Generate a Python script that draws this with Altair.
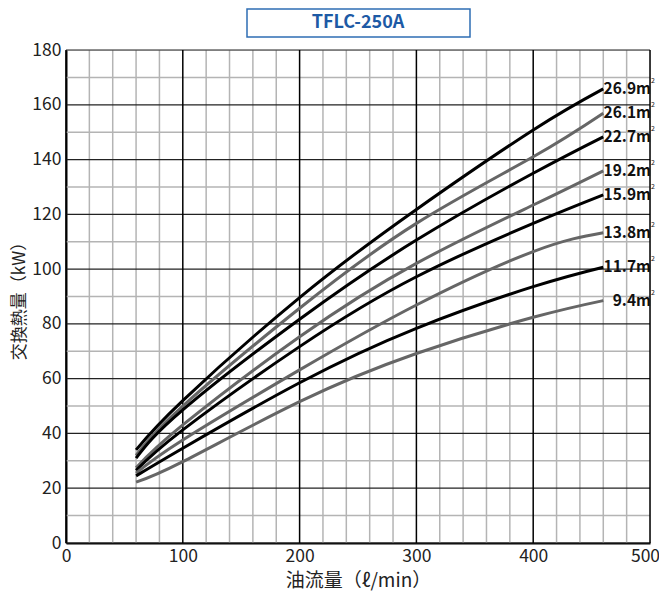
import altair as alt
import pandas as pd

# Oil flow rate (l/min) at which curves were read
flow = [60, 100, 200, 300, 400, 460]

# Heat exchange (kW) per heat-transfer area
areas = ["26.9", "26.1", "22.7", "19.2", "15.9", "13.8", "11.7", "9.4"]
q_269 = [34.0, 52.0, 89.6, 121.8, 150.8, 165.8]
q_261 = [32.0, 50.0, 85.7, 116.7, 141.0, 156.9]
q_227 = [31.0, 48.6, 81.7, 110.6, 135.0, 148.3]
q_192 = [27.5, 43.1, 75.3, 102.1, 123.4, 135.9]
q_159 = [26.5, 41.3, 71.7, 97.2, 116.7, 127.1]
q_138 = [25.5, 37.6, 63.2, 86.9, 106.4, 113.3]
q_117 = [24.5, 34.6, 58.5, 78.4, 93.6, 100.7]
q_94 = [22.2, 29.7, 51.6, 69.2, 82.4, 88.5]
series = [q_269, q_261, q_227, q_192, q_159, q_138, q_117, q_94]
line_colors = ["#000000", "#666666", "#000000", "#666666", "#000000", "#666666", "#000000", "#666666"]

x_major = [0, 100, 200, 300, 400, 500]
x_minor = [20, 40, 60, 80, 120, 140, 160, 180, 220, 240, 260, 280, 320, 340, 360, 380, 420, 440, 460, 480]
y_major = [0, 20, 40, 60, 80, 100, 120, 140, 160, 180]
y_minor = [10, 30, 50, 70, 90, 110, 130, 150, 170]

title_text = "TFLC-250A"
x_title = "油流量（ℓ/min）"
y_title = "交換熱量（kW）"
FONT = "Noto Sans CJK JP"

rows = []
for a, vals in zip(areas, series):
    for f, v in zip(flow, vals):
        rows.append({"area": a, "flow": f, "q": v})
df = pd.DataFrame(rows)
lab = pd.DataFrame({"area": areas, "q": [s[-1] for s in series], "label": [a + "m" for a in areas]})

xs = alt.Scale(domain=[0, 500], nice=False)
ys = alt.Scale(domain=[0, 180], nice=False)
xax = alt.Axis(values=x_major, grid=False, ticks=False, labelFontSize=17.5, labelColor="#222",
               labelFont=FONT, titleFont=FONT, titleFontSize=19, titleFontWeight="normal",
               titleColor="#222", labelPadding=4, titlePadding=7, domainColor="#000",
               domainWidth=2, labelFlush=False,
               labelOffset={"expr": "datum.value == 500 ? -5 : 0"})
yax = alt.Axis(values=y_major, grid=False, ticks=False, labelFontSize=17.5, labelColor="#222",
               labelFont=FONT, titleFont=FONT, titleFontSize=17, titleFontWeight="normal",
               titleColor="#222", labelPadding=5, titlePadding=3, domainColor="#000",
               domainWidth=2)

xmin = alt.Chart(pd.DataFrame({"v": x_minor})).mark_rule(color="#b4b4b4", strokeWidth=1.5).encode(
    x=alt.X("v:Q", scale=xs, axis=xax, title=x_title))
ymin = alt.Chart(pd.DataFrame({"v": y_minor})).mark_rule(color="#b4b4b4", strokeWidth=1.5).encode(
    y=alt.Y("v:Q", scale=ys, axis=yax, title=y_title))
ymaj = alt.Chart(pd.DataFrame({"v": y_major})).mark_rule(color="#222222", strokeWidth=1.2).encode(
    y=alt.Y("v:Q", scale=ys, axis=yax, title=y_title))
xmaj = alt.Chart(pd.DataFrame({"v": x_major})).mark_rule(color="#000000", strokeWidth=1.5).encode(
    x=alt.X("v:Q", scale=xs, axis=xax, title=x_title))

lines = alt.Chart(df).mark_line(strokeWidth=3, interpolate="natural").encode(
    x=alt.X("flow:Q", scale=xs, title=x_title, axis=xax),
    y=alt.Y("q:Q", scale=ys, title=y_title, axis=yax),
    color=alt.Color("area:N", scale=alt.Scale(domain=areas, range=line_colors), legend=None),
    detail="area:N",
)

labels = alt.Chart(lab).mark_text(align="right", baseline="middle", font=FONT, fontSize=15.5,
                                  fontWeight="bold", color="#111", dx=1).encode(
    x=alt.datum(500, scale=xs), y=alt.Y("q:Q", scale=ys, axis=yax, title=y_title), text="label:N")
sup = alt.Chart(lab).mark_text(align="left", baseline="middle", font=FONT, fontSize=7,
                               color="#111", dx=1, dy=-8).encode(
    x=alt.datum(500, scale=xs), y=alt.Y("q:Q", scale=ys, axis=yax, title=y_title), text=alt.value("2"))

tdf = pd.DataFrame({"t": [title_text]})
tbox = alt.Chart(tdf).mark_rect(fill="white", stroke="#2e6db4", strokeWidth=1.5).encode(
    x=alt.value(181), x2=alt.value(404), y=alt.value(-41), y2=alt.value(-13))
ttext = alt.Chart(tdf).mark_text(font=FONT, fontSize=18, fontWeight="bold", color="#1d5aa5",
                                 align="center", baseline="middle").encode(
    x=alt.value(292), y=alt.value(-27), text="t:N")

chart = alt.layer(xmin, ymin, ymaj, xmaj, lines, labels, sup, tbox, ttext).properties(
    width=584, height=493,
    autosize=alt.AutoSizeParams(type="none"),
    padding={"left": 58, "top": 42, "right": 9, "bottom": 48},
).configure_view(stroke="#000", strokeWidth=2).configure(background="white")

chart.save("out.html", embed_options={"renderer": "svg", "actions": False})
